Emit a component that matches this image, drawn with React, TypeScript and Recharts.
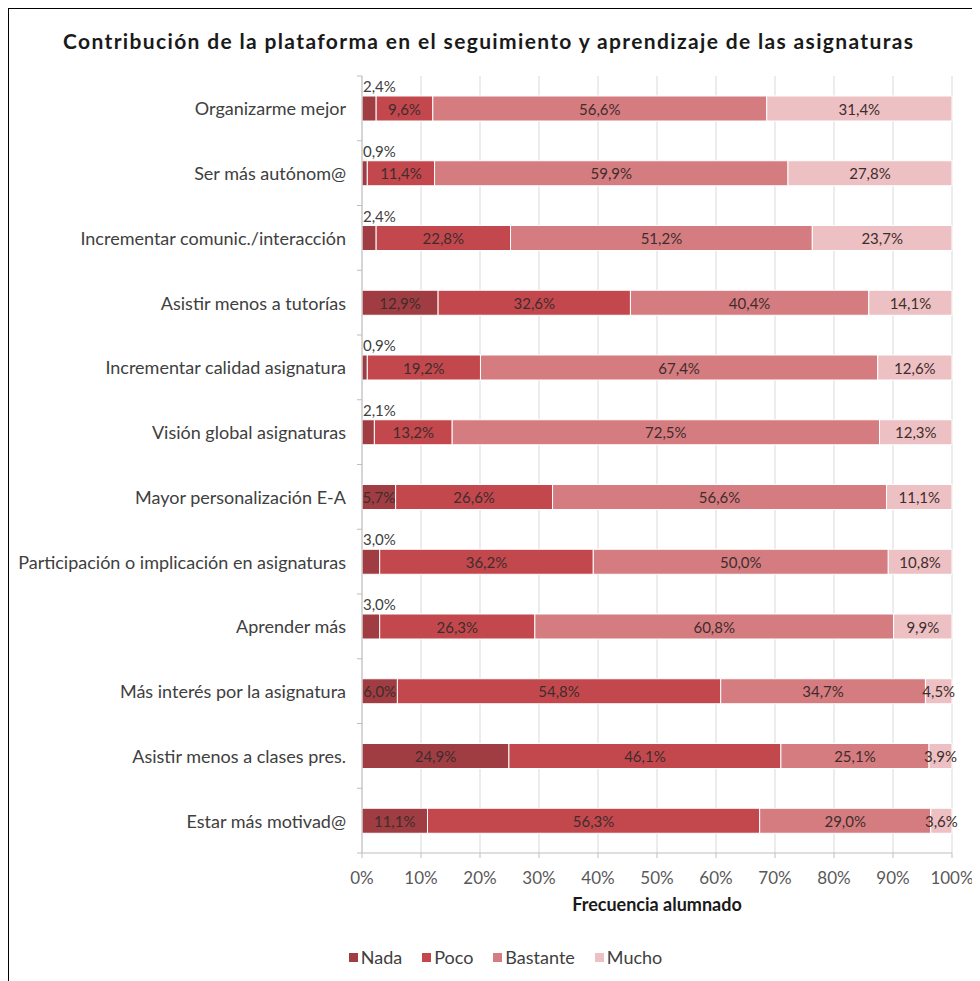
import React from "react"
import {
  BarChart,
  Bar,
  XAxis,
  YAxis,
  CartesianGrid,
  Legend,
  LabelList,
} from "recharts"

const categories = [
  "Organizarme mejor",
  "Ser más autónom@",
  "Incrementar comunic./interacción",
  "Asistir menos a tutorías",
  "Incrementar calidad asignatura",
  "Visión global asignaturas",
  "Mayor personalización E-A",
  "Participación o implicación en asignaturas",
  "Aprender más",
  "Más interés por la asignatura",
  "Asistir menos a clases pres.",
  "Estar más motivad@",
]

const nada = [2.4, 0.9, 2.4, 12.9, 0.9, 2.1, 5.7, 3.0, 3.0, 6.0, 24.9, 11.1]
const poco = [9.6, 11.4, 22.8, 32.6, 19.2, 13.2, 26.6, 36.2, 26.3, 54.8, 46.1, 56.3]
const bastante = [56.6, 59.9, 51.2, 40.4, 67.4, 72.5, 56.6, 50.0, 60.8, 34.7, 25.1, 29.0]
const mucho = [31.4, 27.8, 23.7, 14.1, 12.6, 12.3, 11.1, 10.8, 9.9, 4.5, 3.9, 3.6]

const seriesKeys = ["nada", "poco", "bastante", "mucho"]
const seriesNames = ["Nada", "Poco", "Bastante", "Mucho"]
const seriesColors = ["#9F3D42", "#C3484D", "#D57C80", "#EDC1C3"]

const xTicks = [0, 10, 20, 30, 40, 50, 60, 70, 80, 90, 100]

const data = categories.map((cat, i) => ({
  cat,
  nada: nada[i],
  poco: poco[i],
  bastante: bastante[i],
  mucho: mucho[i],
}))

const FONT = "Lato, 'Open Sans', sans-serif"
const W = 971
const H = 972
const MARGIN = { top: 67, right: 28, left: 0, bottom: 14 }
const XAXIS_H = 94
const LEGEND_H = 20
const PLOT_H = H - MARGIN.top - MARGIN.bottom - XAXIS_H - LEGEND_H
const BAND = PLOT_H / categories.length

const fmt = (v: number) => v.toFixed(1).replace(".", ",") + "%"

function CatTick(props: any) {
  const { x, y, payload, index } = props
  return (
    <g>
      <line x1={x - 5} x2={x} y1={y - BAND / 2} y2={y - BAND / 2} stroke="#bfbfbf" />
      {index === categories.length - 1 && (
        <line x1={x - 5} x2={x} y1={y + BAND / 2} y2={y + BAND / 2} stroke="#bfbfbf" />
      )}
      <text
        x={x - 16}
        y={y}
        textAnchor="end"
        dominantBaseline="central"
        fill="#404040"
        fontSize={18}
        fontFamily={FONT}
      >
        {payload.value}
      </text>
    </g>
  )
}

const makeLabel = (key: string) => (props: any) => {
  const { x, y, width, height, value } = props
  if (value == null) return null
  if (key === "nada" && value < 4) {
    return (
      <text
        x={x + 1}
        y={y - 10}
        dominantBaseline="central"
        fill="#404040"
        fontSize={15}
        fontFamily={FONT}
      >
        {fmt(value)}
      </text>
    )
  }
  return (
    <text
      x={x + width / 2}
      y={y + height / 2}
      textAnchor="middle"
      dominantBaseline="central"
      fill="#3f2c2c"
      fontSize={15}
      fontFamily={FONT}
    >
      {fmt(value)}
    </text>
  )
}

function LegendContent() {
  return (
    <div
      style={{
        display: "flex",
        justifyContent: "center",
        gap: 20,
        paddingLeft: 50,
        fontFamily: FONT,
        fontSize: 18,
        color: "#404040",
        height: LEGEND_H,
        alignItems: "center",
      }}
    >
      {seriesNames.map((n, i) => (
        <span key={n} style={{ display: "flex", alignItems: "center" }}>
          <span
            style={{
              width: 9,
              height: 9,
              background: seriesColors[i],
              marginRight: 3,
              display: "inline-block",
            }}
          />
          {n}
        </span>
      ))}
    </div>
  )
}

export default function App() {
  return (
    <div
      style={{
        position: "relative",
        width: W,
        height: H,
        borderTop: "1px solid #000",
        borderLeft: "1px solid #000",
        background: "#fff",
      }}
    >
      <svg
        width={W}
        height={60}
        style={{ position: "absolute", top: 0, left: 0, zIndex: 1 }}
      >
        <text
          x={54}
          y={40}
          textLength={850}
          lengthAdjust="spacing"
          fontFamily={FONT}
          fontWeight={700}
          fontSize={21}
          fill="#1a1a1a"
        >
          Contribución de la plataforma en el seguimiento y aprendizaje de las asignaturas
        </text>
      </svg>
      <BarChart
        width={W}
        height={H}
        data={data}
        layout="vertical"
        stackOffset="expand"
        margin={MARGIN}
        barSize={25}
      >
        <CartesianGrid horizontal={false} stroke="#d9d9d9" />
        <XAxis
          type="number"
          domain={[0, 1]}
          ticks={xTicks.map((t) => t / 100)}
          tickFormatter={(v: number) => `${Math.round(v * 100)}%`}
          tickSize={5}
          tickMargin={14}
          height={XAXIS_H}
          axisLine={{ stroke: "#bfbfbf" }}
          tickLine={{ stroke: "#bfbfbf" }}
          tick={{ fill: "#595959", fontSize: 17, fontFamily: FONT }}
          label={{
            value: "Frecuencia alumnado",
            position: "insideBottom",
            offset: 36,
            fill: "#1a1a1a",
            fontSize: 18,
            fontWeight: 700,
            fontFamily: FONT,
          }}
        />
        <YAxis
          type="category"
          dataKey="cat"
          width={353}
          tickSize={0}
          tickMargin={0}
          tickLine={false}
          axisLine={{ stroke: "#bfbfbf" }}
          tick={<CatTick />}
          interval={0}
        />
        <Legend verticalAlign="bottom" height={LEGEND_H} content={<LegendContent />} />
        {seriesKeys.map((k, i) => (
          <Bar
            key={k}
            dataKey={k}
            name={seriesNames[i]}
            stackId="a"
            fill={seriesColors[i]}
            stroke="#ffffff"
            strokeWidth={1}
            isAnimationActive={false}
          >
            <LabelList dataKey={k} content={makeLabel(k)} />
          </Bar>
        ))}
      </BarChart>
    </div>
  )
}
